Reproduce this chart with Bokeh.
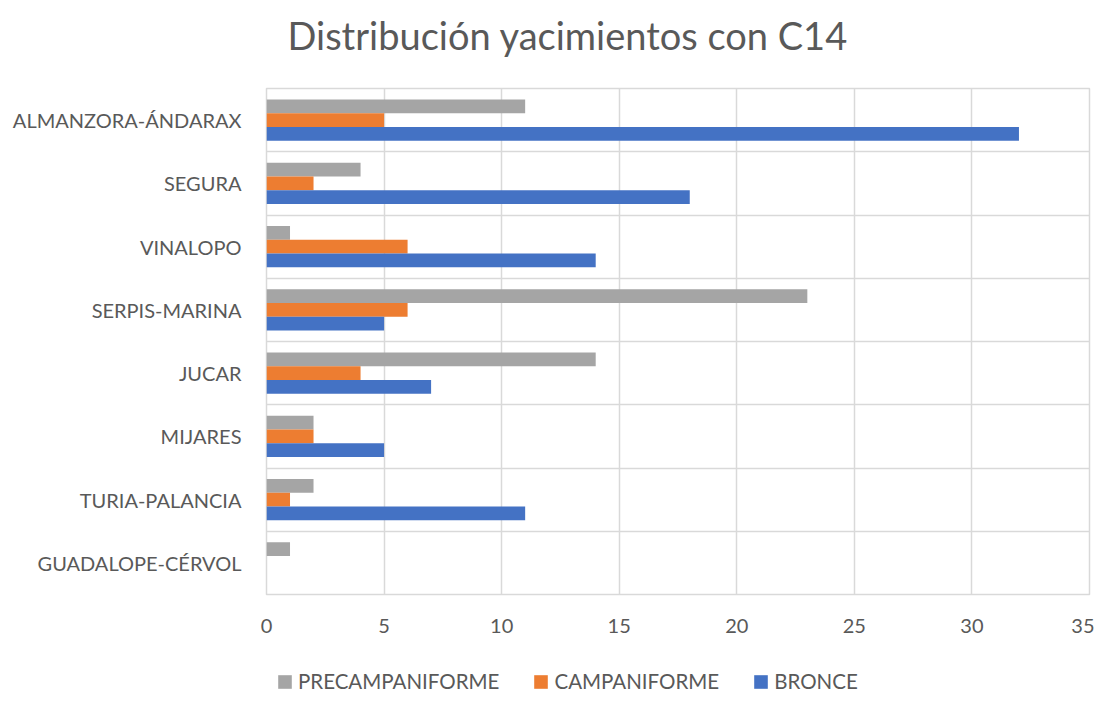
from bokeh.plotting import figure
from bokeh.layouts import column
from bokeh.models import (Range1d, FixedTicker, Legend, LegendItem, ColumnDataSource)
from bokeh.embed import file_html
from bokeh.resources import INLINE

categories = ["ALMANZORA-ÁNDARAX", "SEGURA", "VINALOPO", "SERPIS-MARINA", "JUCAR",
              "MIJARES", "TURIA-PALANCIA", "GUADALOPE-CÉRVOL"]
precampaniforme = [11, 4, 1, 23, 14, 2, 2, 1]
campaniforme = [5, 2, 6, 6, 4, 2, 1, 0]
bronce = [32, 18, 14, 5, 7, 5, 11, 0]
series_names = ["PRECAMPANIFORME", "CAMPANIFORME", "BRONCE"]
series_colors = ["#A5A5A5", "#ED7D31", "#4472C4"]
x_ticks = [0, 5, 10, 15, 20, 25, 30, 35]
chart_title = "Distribución yacimientos con C14"

FONT = "Lato"
TXT = "#595959"

n = len(categories)
pos = list(range(n))


def strip(height):
    f = figure(width=1094, height=height, output_backend="svg", toolbar_location=None,
               x_range=Range1d(0, 1), y_range=Range1d(0, 1),
               x_axis_location=None, y_axis_location=None, min_border=0)
    f.grid.visible = False
    f.outline_line_color = None
    f.background_fill_color = "white"
    f.border_fill_color = "white"
    return f


# title strip
tt = strip(74)
tt.title.text = chart_title
tt.title.text_font = FONT
tt.title.text_font_size = "38px"
tt.title.text_font_style = "normal"
tt.title.text_color = TXT
tt.title.align = "left"
tt.title.vertical_align = "top"
tt.title.offset = 21
tt.title.standoff = 22

# main chart
p = figure(width=1094, height=572, output_backend="svg", toolbar_location=None,
           x_range=Range1d(0, 35), y_range=Range1d(n - 0.5, -0.5),
           min_border_left=266, min_border_right=5, min_border_top=14, min_border_bottom=52)
p.title.standoff = 0

bar_h = 0.218
offsets = [-bar_h, 0.0, bar_h]
for vals, off, col in zip([precampaniforme, campaniforme, bronce], offsets, series_colors):
    src = ColumnDataSource(dict(y=[q + off for q in pos], right=vals))
    p.hbar(y="y", right="right", left=0, height=bar_h, source=src,
           fill_color=col, line_color=None)

p.xaxis.ticker = FixedTicker(ticks=x_ticks)
p.yaxis.ticker = FixedTicker(ticks=pos)
p.yaxis.major_label_overrides = {i: c for i, c in zip(pos, categories)}
for ax in (p.xaxis[0], p.yaxis[0]):
    ax.axis_line_color = None
    ax.major_tick_line_color = None
    ax.minor_tick_line_color = None
    ax.major_tick_out = 0
    ax.major_tick_in = 0
    ax.minor_tick_out = 0
    ax.major_label_text_font = FONT
    ax.major_label_text_font_size = "20px"
    ax.major_label_text_color = TXT
p.xaxis.major_label_standoff = 24
p.yaxis.major_label_standoff = 25

p.xgrid.ticker = FixedTicker(ticks=x_ticks)
p.ygrid.ticker = FixedTicker(ticks=[i - 0.5 for i in range(n + 1)])
for g in (p.xgrid[0], p.ygrid[0]):
    g.grid_line_color = "#D9D9D9"
    g.grid_line_width = 1.5
p.outline_line_color = "#D9D9D9"
p.outline_line_width = 1.5
p.background_fill_color = "white"
p.border_fill_color = "white"

# legend strip
lg = strip(52)
items = []
for nm, col in zip(series_names, series_colors):
    r = lg.hbar(y=[-5], right=[1], left=0, height=1, fill_color=col, line_color=None)
    items.append(LegendItem(label=nm, renderers=[r]))
legend = Legend(items=items, orientation="horizontal", location=(10, 5),
                glyph_width=17, glyph_height=17, label_height=17, label_standoff=5, spacing=33,
                label_text_font=FONT, label_text_font_size="20.5px", label_text_color=TXT,
                border_line_color=None, background_fill_alpha=0, padding=0, margin=0)
lg.add_layout(legend)

open("out.html", "w").write(file_html(column(tt, p, lg), INLINE))
